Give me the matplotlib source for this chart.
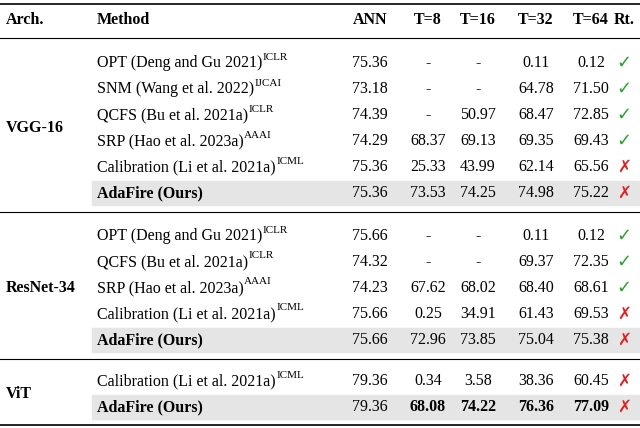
import matplotlib
matplotlib.use("Agg")
import matplotlib.pyplot as plt
from matplotlib.patches import Rectangle

plt.rcParams['font.family'] = ['Liberation Serif', 'DejaVu Sans']

headers = ["Arch.", "Method", "ANN", "T=8", "T=16", "T=32", "T=64", "Rt."]
archs = ["VGG-16", "ResNet-34", "ViT"]
methods = [
    [("OPT (Deng and Gu 2021)", "ICLR"), ("SNM (Wang et al. 2022)", "IJCAI"),
     ("QCFS (Bu et al. 2021a)", "ICLR"), ("SRP (Hao et al. 2023a)", "AAAI"),
     ("Calibration (Li et al. 2021a)", "ICML"), ("AdaFire (Ours)", "")],
    [("OPT (Deng and Gu 2021)", "ICLR"), ("QCFS (Bu et al. 2021a)", "ICLR"),
     ("SRP (Hao et al. 2023a)", "AAAI"), ("Calibration (Li et al. 2021a)", "ICML"),
     ("AdaFire (Ours)", "")],
    [("Calibration (Li et al. 2021a)", "ICML"), ("AdaFire (Ours)", "")],
]
values = [
    [["75.36", "-", "-", "0.11", "0.12"], ["73.18", "-", "-", "64.78", "71.50"],
     ["74.39", "-", "50.97", "68.47", "72.85"], ["74.29", "68.37", "69.13", "69.35", "69.43"],
     ["75.36", "25.33", "43.99", "62.14", "65.56"], ["75.36", "73.53", "74.25", "74.98", "75.22"]],
    [["75.66", "-", "-", "0.11", "0.12"], ["74.32", "-", "-", "69.37", "72.35"],
     ["74.23", "67.62", "68.02", "68.40", "68.61"], ["75.66", "0.25", "34.91", "61.43", "69.53"],
     ["75.66", "72.96", "73.85", "75.04", "75.38"]],
    [["79.36", "0.34", "3.58", "38.36", "60.45"], ["79.36", "68.08", "74.22", "76.36", "77.09"]],
]
rt = [[1, 1, 1, 1, 0, 0], [1, 1, 1, 0, 0], [0, 0]]

W, H = 640, 428
fig = plt.figure(figsize=(6.4, 4.28), dpi=100)
ax = fig.add_axes([0, 0, 1, 1])
ax.set_xlim(0, W); ax.set_ylim(H, 0); ax.axis('off')
renderer = fig.canvas.get_renderer()

col_x = [370, 428, 478, 536, 591]
fs = 11.5
ax.text(6, 20, headers[0], fontsize=fs, weight='bold', va='center')
ax.text(97, 20, headers[1], fontsize=fs, weight='bold', va='center')
for x, h in zip(col_x, headers[2:7]):
    ax.text(x, 20, h, fontsize=fs, weight='bold', va='center', ha='center')
ax.text(624, 20, headers[7], fontsize=fs, weight='bold', va='center', ha='center')

ax.plot([0, W], [4, 4], color='k', lw=1.2)
ax.plot([0, W], [38, 38], color='k', lw=0.8)

row_ys = [[63, 89, 115, 141, 167, 193], [236, 262, 288, 314, 340], [381, 407]]
for y in [212, 359]:
    ax.plot([0, W], [y, y], color='k', lw=0.8)
ax.plot([0, W], [425, 425], color='k', lw=1.2)

for g, arch in enumerate(archs):
    ys = row_ys[g]
    ax.text(6, sum(ys) / len(ys), arch, fontsize=fs, weight='bold', va='center')
    for i, y in enumerate(ys):
        name, sup = methods[g][i]
        ours = sup == ""
        if ours:
            ax.add_patch(Rectangle((92, y - 12), W - 92, 24, color='#e5e5e5', zorder=0))
            ax.text(97, y, name, fontsize=fs, weight='bold', va='center')
        else:
            t = ax.text(97, y, name, fontsize=fs, va='center')
            bb = t.get_window_extent(renderer)
            ax.text(bb.x1 + 0.5, y - 6, sup, fontsize=8, va='center')
        for j, (x, v) in enumerate(zip(col_x, values[g][i])):
            bold = (g == 2 and ours and j > 0)
            ax.text(x, y, v, fontsize=fs, va='center', ha='center',
                    weight='bold' if bold else 'normal')
        if rt[g][i]:
            ax.text(624, y, "✓", fontsize=13, va='center', ha='center', color='#2ca02c',
                    family=['DejaVu Sans'])
        else:
            ax.text(624, y, "✗", fontsize=12, va='center', ha='center', color='#e02020',
                    family=['DejaVu Sans'])

fig.savefig("out.png", dpi=100)
